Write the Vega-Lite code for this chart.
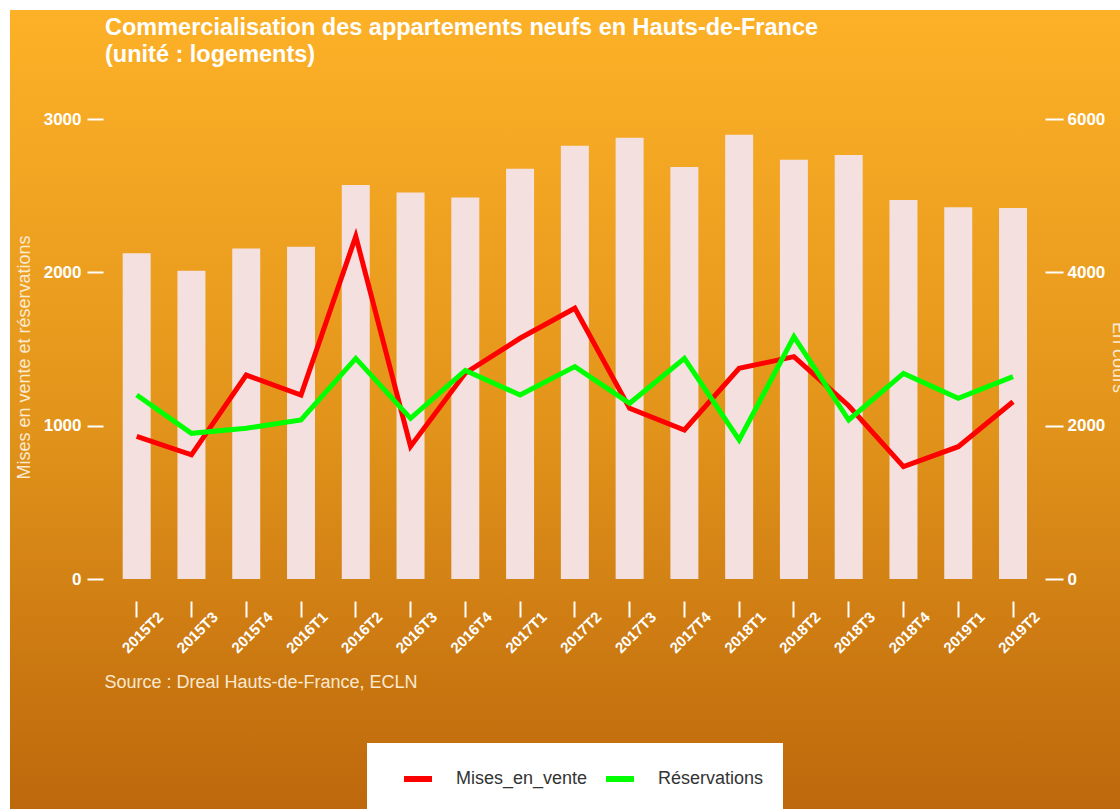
{
  "$schema": "https://vega.github.io/schema/vega-lite/v6.json",
  "width": 1110,
  "height": 799,
  "autosize": {"type": "none"},
  "padding": {"left": 10, "top": 10, "right": 0, "bottom": 0},
  "background": "#ffffff",
  "config": {
    "font": "Liberation Sans",
    "view": {
      "stroke": null,
      "fill": {"gradient": "linear", "x1": 0, "y1": 0, "x2": 0, "y2": 1,
        "stops": [
          {"offset": 0, "color": "#fdb127"},
          {"offset": 0.5, "color": "#e3951b"},
          {"offset": 1, "color": "#bd680c"}
        ]}
    }
  },
  "title": {
    "text": ["Commercialisation des appartements neufs en Hauts-de-France", "(unité : logements)"],
    "anchor": "start",
    "frame": "group",
    "orient": "top",
    "offset": -56,
    "baseline": "top",
    "dx": 95,
    "fontSize": 23.5,
    "fontWeight": "bold",
    "color": "#ffffff",
    "lineHeight": 27
  },
  "datasets": {
    "encours": [
      {"trimestre": "2015T2", "en_cours": 4250},
      {"trimestre": "2015T3", "en_cours": 4020},
      {"trimestre": "2015T4", "en_cours": 4310},
      {"trimestre": "2016T1", "en_cours": 4335},
      {"trimestre": "2016T2", "en_cours": 5140},
      {"trimestre": "2016T3", "en_cours": 5040},
      {"trimestre": "2016T4", "en_cours": 4975},
      {"trimestre": "2017T1", "en_cours": 5350},
      {"trimestre": "2017T2", "en_cours": 5650},
      {"trimestre": "2017T3", "en_cours": 5755},
      {"trimestre": "2017T4", "en_cours": 5375},
      {"trimestre": "2018T1", "en_cours": 5795},
      {"trimestre": "2018T2", "en_cours": 5470},
      {"trimestre": "2018T3", "en_cours": 5530},
      {"trimestre": "2018T4", "en_cours": 4945},
      {"trimestre": "2019T1", "en_cours": 4850},
      {"trimestre": "2019T2", "en_cours": 4840}
    ],
    "flux": [
      {"trimestre": "2015T2", "serie": "Mises_en_vente", "valeur": 930},
      {"trimestre": "2015T3", "serie": "Mises_en_vente", "valeur": 810},
      {"trimestre": "2015T4", "serie": "Mises_en_vente", "valeur": 1330},
      {"trimestre": "2016T1", "serie": "Mises_en_vente", "valeur": 1200},
      {"trimestre": "2016T2", "serie": "Mises_en_vente", "valeur": 2235},
      {"trimestre": "2016T3", "serie": "Mises_en_vente", "valeur": 865},
      {"trimestre": "2016T4", "serie": "Mises_en_vente", "valeur": 1343},
      {"trimestre": "2017T1", "serie": "Mises_en_vente", "valeur": 1570},
      {"trimestre": "2017T2", "serie": "Mises_en_vente", "valeur": 1766},
      {"trimestre": "2017T3", "serie": "Mises_en_vente", "valeur": 1113},
      {"trimestre": "2017T4", "serie": "Mises_en_vente", "valeur": 972},
      {"trimestre": "2018T1", "serie": "Mises_en_vente", "valeur": 1374},
      {"trimestre": "2018T2", "serie": "Mises_en_vente", "valeur": 1450},
      {"trimestre": "2018T3", "serie": "Mises_en_vente", "valeur": 1130},
      {"trimestre": "2018T4", "serie": "Mises_en_vente", "valeur": 733},
      {"trimestre": "2019T1", "serie": "Mises_en_vente", "valeur": 863},
      {"trimestre": "2019T2", "serie": "Mises_en_vente", "valeur": 1156},
      {"trimestre": "2015T2", "serie": "Réservations", "valeur": 1200},
      {"trimestre": "2015T3", "serie": "Réservations", "valeur": 950},
      {"trimestre": "2015T4", "serie": "Réservations", "valeur": 983},
      {"trimestre": "2016T1", "serie": "Réservations", "valeur": 1037},
      {"trimestre": "2016T2", "serie": "Réservations", "valeur": 1439},
      {"trimestre": "2016T3", "serie": "Réservations", "valeur": 1048},
      {"trimestre": "2016T4", "serie": "Réservations", "valeur": 1360},
      {"trimestre": "2017T1", "serie": "Réservations", "valeur": 1200},
      {"trimestre": "2017T2", "serie": "Réservations", "valeur": 1385},
      {"trimestre": "2017T3", "serie": "Réservations", "valeur": 1146},
      {"trimestre": "2017T4", "serie": "Réservations", "valeur": 1439},
      {"trimestre": "2018T1", "serie": "Réservations", "valeur": 907},
      {"trimestre": "2018T2", "serie": "Réservations", "valeur": 1580},
      {"trimestre": "2018T3", "serie": "Réservations", "valeur": 1037},
      {"trimestre": "2018T4", "serie": "Réservations", "valeur": 1341},
      {"trimestre": "2019T1", "serie": "Réservations", "valeur": 1178},
      {"trimestre": "2019T2", "serie": "Réservations", "valeur": 1320}
    ]
  },
  "layer": [
    {
      "data": {"name": "encours"},
      "mark": {"type": "bar", "color": "#f5e0e0"},
      "encoding": {
        "x": {
          "field": "trimestre", "type": "ordinal",
          "scale": {"range": [112.7, 1017], "paddingInner": 0.489, "paddingOuter": 0},
          "axis": {
            "orient": "bottom",
            "offset": -208,
            "domain": false,
            "grid": false,
            "tickColor": "#ffffff",
            "tickSize": 16,
            "tickWidth": 2,
            "labelAngle": -45,
            "labelAlign": "center",
            "labelBaseline": "middle",
            "labelPadding": 15,
            "labelOffset": 6,
            "labelColor": "#ffffff",
            "labelFontSize": 15,
            "labelFontWeight": "bold",
            "title": "Source : Dreal Hauts-de-France, ECLN",
            "titleX": 94,
            "titleY": 81,
            "titleAlign": "left",
            "titleAnchor": null,
            "titleAngle": 0,
            "titleBaseline": "middle",
            "titleColor": "#fbe9d0",
            "titleFontSize": 18,
            "titleFontWeight": "normal"
          }
        },
        "y": {
          "field": "en_cours", "type": "quantitative",
          "scale": {"domain": [-3000, 7422], "nice": false, "zero": false},
          "axis": {
            "orient": "right",
            "offset": -75,
            "values": [0, 2000, 4000, 6000],
            "format": "d",
            "domain": false,
            "grid": false,
            "tickColor": "#ffffff",
            "tickSize": 18,
            "tickWidth": 2,
            "labelPadding": 4,
            "labelColor": "#ffffff",
            "labelFontSize": 17,
            "labelFontWeight": "bold",
            "title": "En cours",
            "titleX": 72,
            "titleY": 347,
            "titleAngle": 90,
            "titleAlign": "center",
            "titleBaseline": "middle",
            "titleColor": "#fbe9d0",
            "titleFontSize": 18,
            "titleFontWeight": "normal"
          }
        }
      }
    },
    {
      "data": {"name": "flux"},
      "mark": {"type": "line", "strokeWidth": 5},
      "encoding": {
        "x": {
          "field": "trimestre", "type": "ordinal",
          "scale": {"range": [112.7, 1017], "paddingInner": 0.489, "paddingOuter": 0}
        },
        "y": {
          "field": "valeur", "type": "quantitative",
          "scale": {"domain": [-1500, 3711], "nice": false, "zero": false},
          "axis": {
            "orient": "left",
            "offset": -93,
            "values": [0, 1000, 2000, 3000],
            "format": "d",
            "domain": false,
            "grid": false,
            "tickColor": "#ffffff",
            "tickSize": 16,
            "tickWidth": 2,
            "labelPadding": 6,
            "labelColor": "#ffffff",
            "labelFontSize": 17,
            "labelFontWeight": "bold",
            "title": "Mises en vente et réservations",
            "titleX": -79,
            "titleY": 347,
            "titleAngle": -90,
            "titleAlign": "center",
            "titleBaseline": "middle",
            "titleColor": "#fbe9d0",
            "titleFontSize": 18,
            "titleFontWeight": "normal"
          }
        },
        "color": {
          "field": "serie", "type": "nominal",
          "scale": {"domain": ["Mises_en_vente", "Réservations"], "range": ["#ff0000", "#00ff00"]},
          "legend": {
            "orient": "none",
            "legendX": 357,
            "legendY": 733,
            "direction": "horizontal",
            "title": null,
            "fillColor": "#ffffff",
            "padding": 19,
            "symbolOffset": 15,
            "symbolType": "stroke",
            "symbolSize": 784,
            "symbolStrokeWidth": 6,
            "labelFontSize": 18,
            "labelColor": "#333333",
            "labelOffset": 21,
            "columnPadding": -2
          }
        }
      }
    }
  ],
  "resolve": {"scale": {"y": "independent"}, "axis": {"y": "independent"}}
}
